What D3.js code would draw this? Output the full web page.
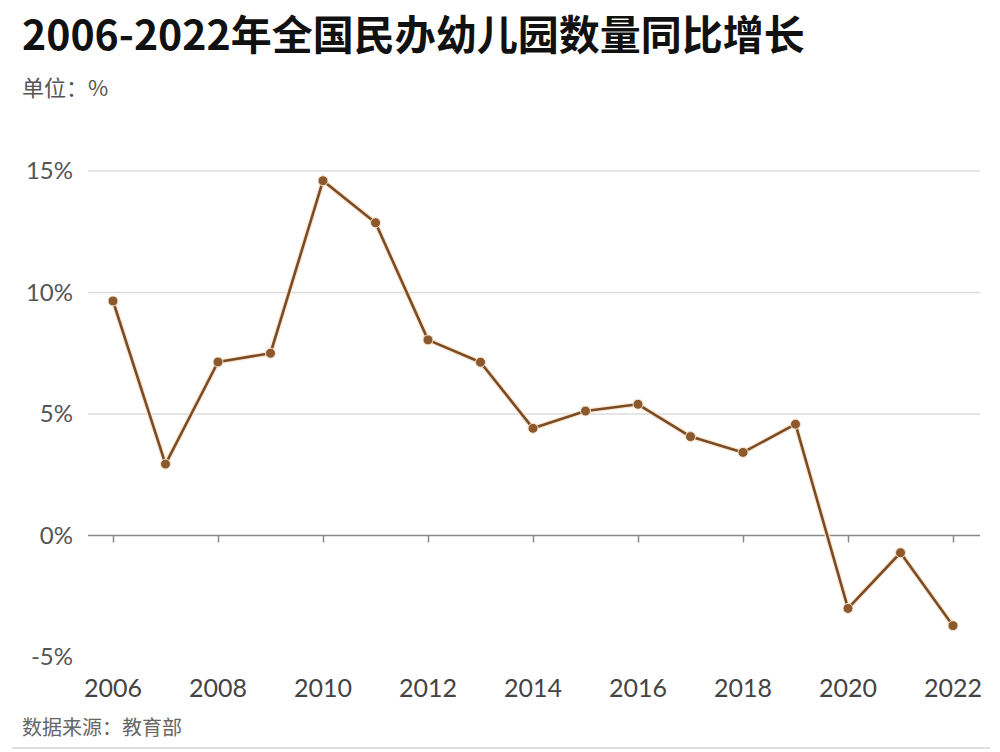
<!DOCTYPE html>
<html><head><meta charset="utf-8">
<script src="https://cdn.jsdelivr.net/npm/d3@7"></script>
<style>body{margin:0;background:#fff}</style>
</head><body>
<svg id="c" width="1000" height="752"></svg>
<script>
const years = [2006,2007,2008,2009,2010,2011,2012,2013,2014,2015,2016,2017,2018,2019,2020,2021,2022];
const growth = [9.65,2.94,7.14,7.5,14.6,12.87,8.05,7.13,4.41,5.12,5.4,4.07,3.42,4.58,-3.0,-0.71,-3.71];
const yTicks = [-5,0,5,10,15];
const xTicks = [2006,2008,2010,2012,2014,2016,2018,2020,2022];
const title = "2006-2022年全国民办幼儿园数量同比增长";
const unit = "单位：%";
const source = "数据来源：教育部";

const svg = d3.select("#c");
const cjk = "'Noto Sans CJK SC', sans-serif";
const num = "Lato, 'Noto Sans', sans-serif";

svg.append("text").attr("x",22).attr("y",50).text(title)
  .attr("font-family",cjk).attr("font-weight",700).attr("font-size",41).attr("fill","#111");
svg.append("text").attr("x",22).attr("y",96).text(unit)
  .attr("font-family",cjk).attr("font-size",22).attr("fill","#555");

const x = d3.scaleLinear().domain([2006,2022]).range([113,953]);
const y = d3.scaleLinear().domain([-5,15]).range([657,171]);
const gridX0 = 88, gridX1 = 980;

// grid
svg.append("g").selectAll("line").data(yTicks.filter(d=>d>0)).join("line")
  .attr("x1",gridX0).attr("x2",gridX1).attr("y1",d=>y(d)).attr("y2",d=>y(d))
  .attr("stroke","#dcdcdc").attr("stroke-width",1.5);

// y labels
svg.append("g").selectAll("text").data(yTicks).join("text")
  .attr("x",73).attr("y",d=>y(d)).attr("dy","0.35em").attr("text-anchor","end")
  .attr("font-family",num).attr("font-size",24).attr("fill","#555")
  .text(d=>d+"%");

// x axis at zero
const xa = svg.append("g").attr("transform",`translate(0,${y(0)})`)
  .call(d3.axisBottom(x).tickValues(xTicks).tickSize(7).tickFormat(d3.format("d")));
xa.select(".domain").remove();
xa.selectAll(".tick line").attr("stroke","#888").attr("stroke-width",1.5);
xa.selectAll(".tick text").remove();
svg.append("line").attr("x1",gridX0).attr("x2",gridX1).attr("y1",y(0)).attr("y2",y(0))
  .attr("stroke","#888").attr("stroke-width",1.5);

// x labels
svg.append("g").selectAll("text").data(xTicks).join("text")
  .attr("x",d=>x(d)).attr("y",688).attr("dy","0.35em").attr("text-anchor","middle")
  .attr("font-family",num).attr("font-size",25).attr("fill","#444")
  .text(d=>d);

// line
const data = years.map((yr,i)=>({yr,v:growth[i]}));
const line = d3.line().x(d=>x(d.yr)).y(d=>y(d.v));
svg.append("path").datum(data).attr("d",line).attr("fill","none")
  .attr("stroke","#fbe6d0").attr("stroke-width",5).attr("stroke-linejoin","round");
svg.append("path").datum(data).attr("d",line).attr("fill","none")
  .attr("stroke","#7a4c26").attr("stroke-width",2.6).attr("stroke-linejoin","round");
svg.append("g").selectAll("circle").data(data).join("circle")
  .attr("cx",d=>x(d.yr)).attr("cy",d=>y(d.v)).attr("r",5)
  .attr("fill","#8a5a2e").attr("stroke","#fbe6d0").attr("stroke-width",1);

// source
svg.append("text").attr("x",22).attr("y",735).text(source)
  .attr("font-family",cjk).attr("font-size",20).attr("fill","#666");
svg.append("line").attr("x1",12).attr("x2",990).attr("y1",748).attr("y2",748)
  .attr("stroke","#e0e0e0").attr("stroke-width",2);
</script>
</body></html>
